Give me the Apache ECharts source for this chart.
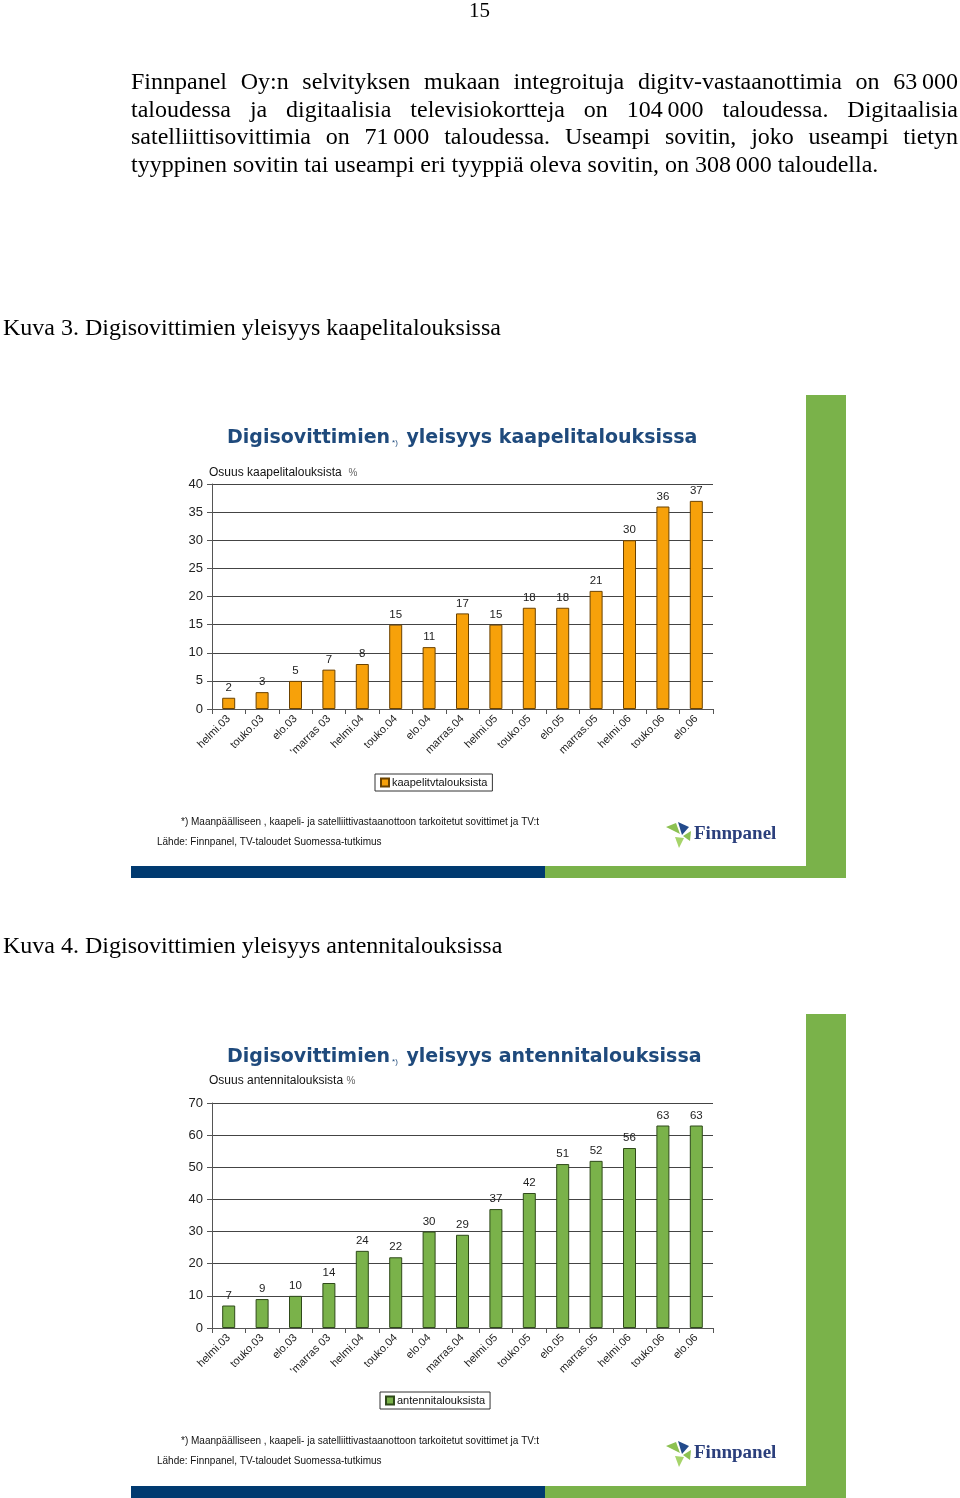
<!DOCTYPE html>
<html>
<head>
<meta charset="utf-8">
<script src="https://cdn.jsdelivr.net/npm/echarts@6/dist/echarts.min.js"></script>
<style>
html, body { margin: 0; padding: 0; background: #fff; }
#main { width: 960px; height: 1498px; }
</style>
</head>
<body>
<div id="main"></div>
<script>
// kategoriat (mittausajankohdat)
var categories = ['helmi.03', 'touko.03', 'elo.03', '\'marras 03', 'helmi.04', 'touko.04',
	'elo.04', 'marras.04', 'helmi.05', 'touko.05', 'elo.05', 'marras.05',
	'helmi.06', 'touko.06', 'elo.06'];
// kaapelitaloudet %
var cableValues = [2, 3, 5, 7, 8, 15, 11, 17, 15, 18, 18, 21, 30, 36, 37];
// antennitaloudet %
var antennaValues = [7, 9, 10, 14, 24, 22, 30, 29, 37, 42, 51, 52, 56, 63, 63];

var paragraphLines = [
	'Finnpanel Oy:n selvityksen mukaan integroituja digitv-vastaanottimia on 63\u2009000',
	'taloudessa ja digitaalisia televisiokortteja on 104\u2009000 taloudessa. Digitaalisia',
	'satelliittisovittimia on 71\u2009000 taloudessa. Useampi sovitin, joko useampi tietyn',
	'tyyppinen sovitin tai useampi eri tyyppiä oleva sovitin, on 308\u2009000 taloudella.'
];

var SERIF = '"Liberation Serif", "Times New Roman", serif';
var SANS = '"Liberation Sans", Arial, sans-serif';
var WIDE = '"DejaVu Sans", Verdana, sans-serif';
var BLUE = '#003a70';
var GREEN = '#7ab24a';

/* tasattu kappale: sanat levitetään rivin leveydelle */
var measureCtx = document.createElement('canvas').getContext('2d');
function justifiedLine(text, x0, x1, y, size, justify) {
	measureCtx.font = size + 'px ' + SERIF;
	var words = text.split(' ');
	var total = 0;
	for (var i = 0; i < words.length; i++) {
		total += measureCtx.measureText(words[i]).width;
	}
	var gap = justify ? (x1 - x0 - total) / (words.length - 1) : measureCtx.measureText(' ').width;
	var out = [];
	var x = x0;
	for (var j = 0; j < words.length; j++) {
		out.push({
			type : 'text', left : x, top : y - size / 2 - 2,
			style : { text : words[j], font : size + 'px ' + SERIF, fill : '#000' }
		});
		x += measureCtx.measureText(words[j]).width + gap;
	}
	return out;
}

function titleText(top, rest) {
	return {
		type : 'text', left : 227, top : top,
		style : {
			text : '{a|Digisovittimien}{b|*)}{a| ' + rest + '}',
			fill : '#1f4a7c',
			rich : {
				a : { font : 'bold 19px ' + WIDE, fill : '#1f4a7c' },
				b : { font : '8px ' + SANS, fill : '#1f4a7c', padding : [8, 2, 0, 2] }
			}
		}
	};
}

function logo(y) {
	return [
		{ type : 'polygon', shape : { points : [[666, y + 4], [676, y], [680, y + 11]] }, style : { fill : '#8cc152' } },
		{ type : 'polygon', shape : { points : [[678, y - 1], [689, y + 4], [682, y + 12]] }, style : { fill : '#234b8c' } },
		{ type : 'polygon', shape : { points : [[683, y + 13], [691, y + 8], [690, y + 18]] }, style : { fill : '#8cc152' } },
		{ type : 'polygon', shape : { points : [[675, y + 14], [684, y + 15], [679, y + 25]] }, style : { fill : '#a6d46a' } },
		{ type : 'text', left : 694, top : y + 2,
			style : { text : 'Finnpanel', font : 'bold 19px ' + SERIF, fill : '#2b3f7c' } }
	];
}

// koristeet: vihreä sivupalkki ja alareunan raita
function frame(top, bottom) {
	return [
		{ type : 'rect', shape : { x : 806, y : top, width : 40, height : bottom - top }, style : { fill : GREEN } },
		{ type : 'rect', shape : { x : 131, y : bottom - 12, width : 414, height : 12 }, style : { fill : BLUE } },
		{ type : 'rect', shape : { x : 545, y : bottom - 12, width : 261, height : 12 }, style : { fill : GREEN } }
	];
}

function smallText(x, y, text, size) {
	return { type : 'text', left : x, top : y,
		style : { text : text, font : (size || 10) + 'px ' + SANS, fill : '#111' } };
}

var graphics = [];
graphics.push({ type : 'text', left : 469, top : 1,
	style : { text : '15', font : '21px ' + SERIF, fill : '#000' } });
for (var k = 0; k < paragraphLines.length; k++) {
	graphics = graphics.concat(justifiedLine(paragraphLines[k], 131, 958, 85 + k * 27.6, 24, k < 3));
}
graphics.push({ type : 'text', left : 3, top : 317,
	style : { text : 'Kuva 3. Digisovittimien yleisyys kaapelitalouksissa', font : '24px ' + SERIF, fill : '#000' } });
graphics.push({ type : 'text', left : 3, top : 935,
	style : { text : 'Kuva 4. Digisovittimien yleisyys antennitalouksissa', font : '24px ' + SERIF, fill : '#000' } });

graphics = graphics.concat(frame(395, 878), frame(1014, 1498));
graphics.push(titleText(429, 'yleisyys kaapelitalouksissa'));
graphics.push(titleText(1048, 'yleisyys antennitalouksissa'));
graphics.push({ type : 'text', left : 209, top : 467,
	style : { text : 'Osuus kaapelitalouksista  {p|%}', font : '12px ' + SANS, fill : '#111',
		rich : { p : { font : '10px ' + SANS, fill : '#666' } } } });
graphics.push({ type : 'text', left : 209, top : 1075,
	style : { text : 'Osuus antennitalouksista {p|%}', font : '12px ' + SANS, fill : '#111',
		rich : { p : { font : '10px ' + SANS, fill : '#666' } } } });
var note = '*) Maanpäälliseen , kaapeli- ja satelliittivastaanottoon tarkoitetut sovittimet ja TV:t';
var source = 'Lähde: Finnpanel, TV-taloudet Suomessa-tutkimus';
graphics.push(smallText(181, 817, note), smallText(157, 837, source));
graphics.push(smallText(181, 1436, note), smallText(157, 1456, source));
graphics = graphics.concat(logo(823), logo(1442));

function xAxisOf(gridIndex) {
	return {
		type : 'category', gridIndex : gridIndex, data : categories,
		axisLine : { lineStyle : { color : '#555' } },
		axisTick : { show : true, length : 5, lineStyle : { color : '#555' } },
		axisLabel : { rotate : 45, fontSize : 11, fontFamily : SANS, color : '#222', margin : 8 }
	};
}
function yAxisOf(gridIndex, max, interval) {
	return {
		type : 'value', gridIndex : gridIndex, min : 0, max : max, interval : interval,
		axisLine : { show : true, lineStyle : { color : '#555' } },
		axisTick : { show : true, length : 5, lineStyle : { color : '#555' } },
		axisLabel : { fontSize : 13, fontFamily : SANS, color : '#222', margin : 9 },
		splitLine : { lineStyle : { color : '#444', width : 1 } }
	};
}
function barSeries(name, data, index, color, border) {
	return {
		name : name, type : 'bar', data : data, xAxisIndex : index, yAxisIndex : index,
		barWidth : 13,
		itemStyle : { color : color, borderColor : border, borderWidth : 1 },
		label : { show : true, position : 'top', distance : 4, fontSize : 11.5, fontFamily : SANS, color : '#222' }
	};
}
function legendOf(name, top, left) {
	return {
		data : [name], top : top, left : left, orient : 'horizontal',
		borderColor : '#333', borderWidth : 1, padding : [3, 5],
		itemWidth : 8, itemHeight : 8, itemGap : 4, icon : 'rect',
		textStyle : { fontSize : 11, fontFamily : SANS, color : '#111', padding : [0, 0, 0, -2] }
	};
}

var option = {
	animation : false,
	backgroundColor : '#fff',
	grid : [
		{ left : 212, top : 484, width : 501, height : 225 },
		{ left : 212, top : 1103, width : 501, height : 225 }
	],
	xAxis : [ xAxisOf(0), xAxisOf(1) ],
	yAxis : [ yAxisOf(0, 40, 5), yAxisOf(1, 70, 10) ],
	legend : [
		legendOf('kaapelitvtalouksista', 774, 375),
		legendOf('antennitalouksista', 1392, 380)
	],
	series : [
		barSeries('kaapelitvtalouksista', cableValues, 0, '#f7a10a', '#6b4200'),
		barSeries('antennitalouksista', antennaValues, 1, '#7ab24a', '#2f4a1a')
	],
	graphic : graphics
};

var myChart = echarts.init(document.getElementById('main'));
myChart.setOption(option);
</script>
</body>
</html>
